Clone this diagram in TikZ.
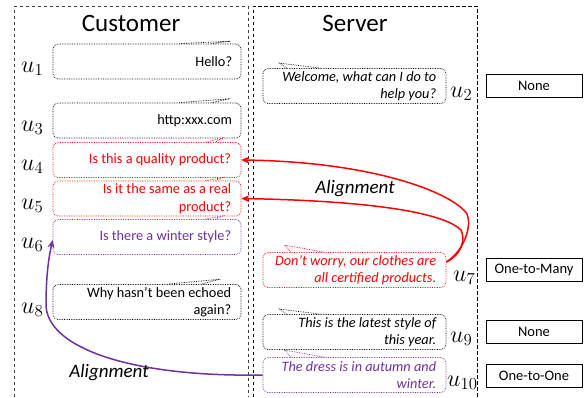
\RequirePackage{fix-cm}
\documentclass[tikz,border=0pt]{standalone}
\usepackage{fontspec}
\setmainfont{Carlito}
\usetikzlibrary{arrows.meta}
\definecolor{myred}{RGB}{255,0,0}
\definecolor{mypurple}{RGB}{112,48,160}
\begin{document}
\begin{tikzpicture}[x=1pt,y=-1pt,
  bub/.style={draw, densely dotted, line width=0.7pt, rounded corners=5pt, minimum height=35pt, inner sep=0pt},
  cust/.style={bub, minimum width=188pt},
  serv/.style={bub, minimum width=183pt},
  btext/.style={anchor=east, align=right, inner sep=0pt, font=\fontsize{14.3}{17.5}\selectfont},
  stext/.style={btext, font=\fontsize{14.3}{17.5}\selectfont\itshape},
  tailst/.style={densely dotted, line width=0.7pt},
  ulab/.style={anchor=base west, inner sep=0pt, font=\fontsize{24}{28}\selectfont},
  tagbox/.style={draw, line width=0.8pt, minimum width=96pt, minimum height=23pt, inner sep=0pt, font=\fontsize{14.5}{17}\selectfont},
  titletext/.style={anchor=base, inner sep=0pt, font=\fontsize{25}{30}\selectfont},
  alab/.style={anchor=base, inner sep=0pt, font=\fontsize{19}{22}\selectfont\itshape},
  framest/.style={dash pattern=on 3.5pt off 2.5pt, line width=0.9pt},
  arr/.style={line width=1.5pt, -{Stealth[length=8pt,width=7pt]}}
]
\useasboundingbox (0,0) rectangle (585,397);
% frames
\draw[framest, black!75] (14.5,397) -- (14.5,6) -- (248,6) -- (248,397);
\draw[framest] (253,397) -- (253,6) -- (477,6) -- (477,397);
\node[titletext] (tc) at (131,31) {Customer};
\node[titletext] (ts) at (355,31) {Server};

% customer bubbles
\node[cust] (u1) at (147,61.5) {};
\node[cust] (u3) at (147,120.5) {};
\node[cust, draw=myred] (u4) at (147,160) {};
\node[cust, draw=myred] (u5) at (147,198.5) {};
\node[cust, draw=mypurple] (u6) at (147,237) {};
\node[cust] (u8) at (147,302) {};
\node[btext] (x1) at ([xshift=-9pt]u1.east) {Hello?};
\node[btext] (x3) at ([xshift=-9pt]u3.east) {http:xxx.com};
\node[btext, text=myred] (x4) at ([xshift=-10pt]u4.east) {Is this a quality product?};
\node[btext, text=myred] (x5) at ([xshift=-10pt]u5.east) {Is it the same as a real\\product?};
\node[btext, text=mypurple] (x6) at ([xshift=-10pt]u6.east) {Is there a winter style?};
\node[btext] (x8) at ([xshift=-10pt]u8.east) {Why hasn't been echoed\\again?};
% customer tails
\draw[tailst] ([xshift=-62pt]u1.north east) -- ([xshift=-11pt,yshift=2.5pt]u1.north east) -- ([xshift=-30pt]u1.north east);
\draw[tailst] ([xshift=-62pt]u3.north east) -- ([xshift=-11pt,yshift=4pt]u3.north east) -- ([xshift=-30pt]u3.north east);
\draw[tailst, myred] ([xshift=-36pt]u4.north east) -- ([xshift=-19pt,yshift=4pt]u4.north east) -- ([xshift=-26pt]u4.north east);
\draw[tailst, myred] ([xshift=-36pt]u5.north east) -- ([xshift=-19pt,yshift=3pt]u5.north east) -- ([xshift=-26pt]u5.north east);
\draw[tailst, mypurple] ([xshift=-36pt]u6.north east) -- ([xshift=-19pt,yshift=3pt]u6.north east) -- ([xshift=-26pt]u6.north east);
\draw[tailst] ([xshift=-74pt]u8.north east) -- ([xshift=-21pt,yshift=5pt]u8.north east) -- ([xshift=-40pt]u8.north east);

% server bubbles
\node[serv] (u2) at (354.5,86) {};
\node[serv, draw=myred] (u7) at (354.5,270) {};
\node[serv] (u9) at (354.5,332) {};
\node[serv, draw=mypurple] (u10) at (354.5,375) {};
\node[stext] (x2) at ([xshift=-10pt]u2.east) {Welcome, what can I do to\\help you?};
\node[stext, text=myred] (x7) at ([xshift=-10pt]u7.east) {Don't worry, our clothes are\\all certified products.};
\node[stext] (x9) at ([xshift=-10pt]u9.east) {This is the latest style of\\this year.};
\node[stext, text=mypurple] (x10) at ([xshift=-10pt]u10.east) {The dress is in autumn and\\winter.};
% server tails
\draw[tailst] ([xshift=24pt]u2.north west) -- ([xshift=17pt,yshift=5pt]u2.north west) -- ([xshift=58pt]u2.north west);
\draw[tailst, myred] ([xshift=28pt]u7.north west) -- ([xshift=22pt,yshift=7pt]u7.north west) -- ([xshift=62pt]u7.north west);
\draw[tailst] ([xshift=24pt]u9.north west) -- ([xshift=17pt,yshift=5pt]u9.north west) -- ([xshift=58pt]u9.north west);
\draw[tailst, mypurple] ([xshift=28pt]u10.north west) -- ([xshift=22pt,yshift=7pt]u10.north west) -- ([xshift=62pt]u10.north west);

% utterance labels
\node[ulab] (l1) at (21,72) {$u_1$};
\node[ulab] (l3) at (21,131) {$u_3$};
\node[ulab] (l4) at (21,170) {$u_4$};
\node[ulab] (l5) at (21,209) {$u_5$};
\node[ulab] (l6) at (21,248) {$u_6$};
\node[ulab] (l8) at (21,313) {$u_8$};
\node[ulab] (l2) at (450,97) {$u_2$};
\node[ulab] (l7) at (453,281) {$u_7$};
\node[ulab] (l9) at (450,342) {$u_9$};
\node[ulab] (l10) at (447,386) {$u_{10}$};

% tags
\node[tagbox] (g2) at (534,85.5) {None};
\node[tagbox] (g7) at (534,270) {One-to-Many};
\node[tagbox] (g9) at (534,332) {None};
\node[tagbox] (g10) at (534,375.5) {One-to-One};

% alignment arrows
\draw[arr, myred] ([yshift=8pt]u7.east) .. controls (465,250) and (472,225) .. (467,214) .. controls (455,195) and (380,162) .. (u4.east);
\draw[arr, myred] ([yshift=8pt]u7.east) .. controls (461,255) and (466,240) .. (461,230) .. controls (445,214) and (380,201) .. (u5.east);
\draw[arr, mypurple] (u10.west) -- (235,375) .. controls (120,373) and (47,345) .. (46,305) .. controls (46,270) and (50,252) .. ([yshift=-3pt]u6.west);
\node[alab] (a1) at (355,193) {Alignment};
\node[alab] (a2) at (109,377) {Alignment};
\end{tikzpicture}
\end{document}
